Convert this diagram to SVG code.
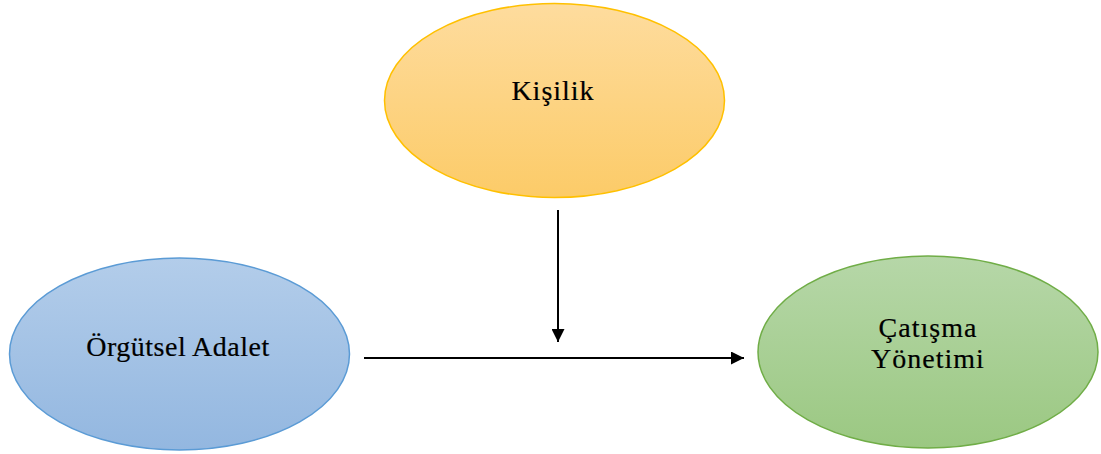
<svg xmlns="http://www.w3.org/2000/svg" width="1101" height="454" viewBox="0 0 1101 454">
<defs>
<linearGradient id="gY" x1="0" y1="0" x2="0" y2="1"><stop offset="0" stop-color="#FEDC9E"/><stop offset="1" stop-color="#FCCB68"/></linearGradient>
<linearGradient id="gB" x1="0" y1="0" x2="0" y2="1"><stop offset="0" stop-color="#B3CDEA"/><stop offset="1" stop-color="#93B7E0"/></linearGradient>
<linearGradient id="gG" x1="0" y1="0" x2="0" y2="1"><stop offset="0" stop-color="#B6D7A8"/><stop offset="1" stop-color="#9BC882"/></linearGradient>
<marker id="arr" viewBox="0 0 10 10" refX="10" refY="5" markerWidth="6.5" markerHeight="6.5" markerUnits="strokeWidth" orient="auto"><path d="M0,0 L10,5 L0,10 z" fill="#000"/></marker>
<style>
.lbl{font-family:"Liberation Serif","Times New Roman",serif;font-size:28px;fill:#000;text-anchor:middle;stroke:#000;stroke-width:0.2}
.conn{stroke:#000;stroke-width:2;fill:none;marker-end:url(#arr)}
</style>
</defs>
<rect width="1101" height="454" fill="#fff"/>
<g id="kisilik">
<ellipse cx="554.5" cy="100.5" rx="170" ry="97" fill="url(#gY)" stroke="#FFC000" stroke-width="1.5"/>
<text class="lbl" x="553" y="100" letter-spacing="1">Kişilik</text>
</g>
<g id="orgutsel-adalet">
<ellipse cx="179.5" cy="354" rx="170" ry="96" fill="url(#gB)" stroke="#5B9BD5" stroke-width="1.5"/>
<text class="lbl" x="178" y="356" letter-spacing="0.5">Örgütsel Adalet</text>
</g>
<g id="catisma-yonetimi">
<ellipse cx="928" cy="352" rx="170" ry="96" fill="url(#gG)" stroke="#70AD47" stroke-width="1.5"/>
<text class="lbl" x="928" y="337" letter-spacing="1">Çatışma</text>
<text class="lbl" x="928" y="368" letter-spacing="1">Yönetimi</text>
</g>
<g id="connectors">
<line class="conn" x1="558" y1="210" x2="558" y2="342"/>
<line class="conn" x1="364" y1="358" x2="744" y2="358"/>
</g>
</svg>
